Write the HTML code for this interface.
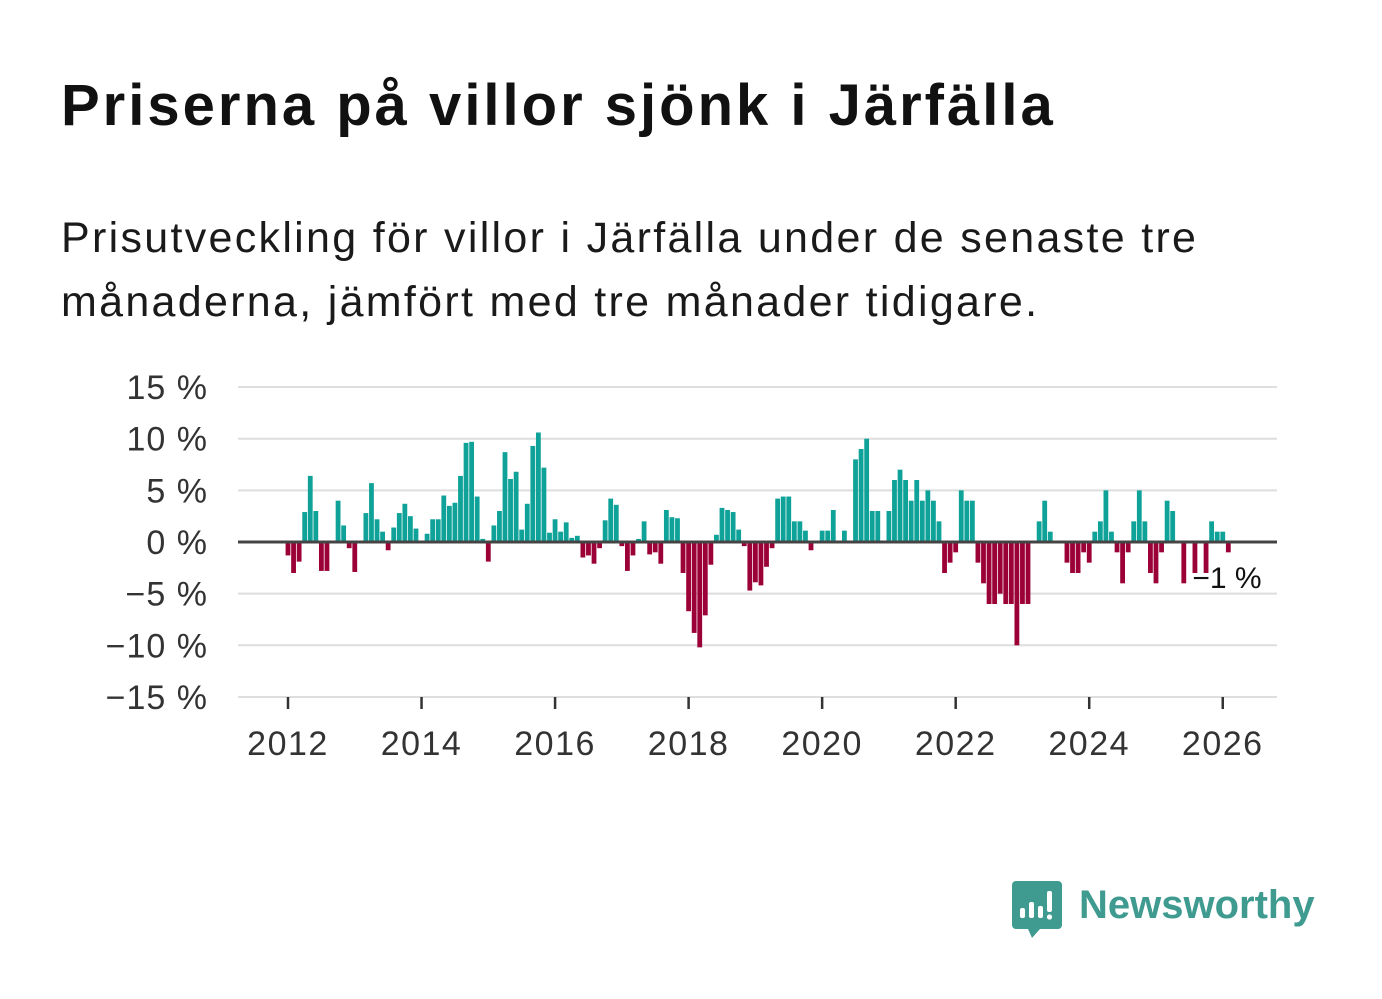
<!DOCTYPE html>
<html><head><meta charset="utf-8"><style>
html,body{margin:0;padding:0;background:#fff;}
body{width:1382px;height:999px;position:relative;overflow:hidden;font-family:"Liberation Sans",sans-serif;}
#title{position:absolute;left:61px;top:72px;font-size:58px;font-weight:bold;color:#111;margin:0;letter-spacing:3px;white-space:nowrap;}
#sub{position:absolute;left:61px;top:206px;font-size:43px;color:#1a1a1a;line-height:64px;margin:0;width:1300px;letter-spacing:2.3px;white-space:nowrap;}
svg{position:absolute;left:0;top:0;}
</style></head><body>
<h1 id="title">Priserna på villor sjönk i Järfälla</h1>
<p id="sub">Prisutveckling för villor i Järfälla under de senaste tre<br>månaderna, jämfört med tre månader tidigare.</p>
<svg id="chart" width="1382" height="999"></svg>
<svg width="1382" height="999">
<path d="M1016 881 h42 a4 4 0 0 1 4 4 v40 a4 4 0 0 1 -4 4 h-18 l-8 9 l-4 -9 h-12 a4 4 0 0 1 -4 -4 v-40 a4 4 0 0 1 4 -4z" fill="#3f9a90"/>
<rect x="1020" y="908" width="5" height="10" rx="2" fill="#fff"/>
<rect x="1029" y="902" width="5" height="16" rx="2" fill="#fff"/>
<rect x="1038" y="906" width="5" height="12" rx="2" fill="#fff"/>
<rect x="1047" y="891" width="5" height="21" rx="2" fill="#fff"/>
<circle cx="1049.5" cy="917" r="2.6" fill="#fff"/>
<text x="1079" y="918" font-family="Liberation Sans, sans-serif" font-weight="bold" font-size="40" fill="#3f9a90">Newsworthy</text>
</svg>
<script>
const yTicks=[15,10,5,0,-5,-10,-15];
const yTickLabels=["15 %","10 %","5 %","0 %","−5 %","−10 %","−15 %"];
const xTicks=[2012,2014,2016,2018,2020,2022,2024,2026];
const values=[-1.3,-3.0,-1.9,2.9,6.4,3.0,-2.8,-2.8,0,4.0,1.6,-0.6,-2.9,0,2.8,5.7,2.2,1.0,-0.8,1.4,2.8,3.7,2.5,1.3,0,0.8,2.2,2.2,4.5,3.5,3.8,6.4,9.6,9.7,4.4,0.3,-1.9,1.6,3.0,8.7,6.1,6.8,1.2,3.7,9.3,10.6,7.2,0.9,2.2,1.0,1.9,0.4,0.6,-1.5,-1.3,-2.1,-0.6,2.1,4.2,3.6,-0.4,-2.8,-1.3,0.3,2.0,-1.2,-1.0,-2.1,3.1,2.4,2.3,-3.0,-6.7,-8.8,-10.2,-7.1,-2.2,0.7,3.3,3.1,2.9,1.2,-0.4,-4.7,-3.9,-4.2,-2.4,-0.6,4.2,4.4,4.4,2.0,2.0,1.1,-0.8,0,1.1,1.1,3.1,0,1.1,0,8.0,9.0,10.0,3.0,3.0,0,3.0,6.0,7.0,6.0,4.0,6.0,4.0,5.0,4.0,2.0,-3.0,-2.0,-1.0,5.0,4.0,4.0,-2.0,-4.0,-6.0,-6.0,-5.0,-6.0,-6.0,-10.0,-6.0,-6.0,0,2.0,4.0,1.0,0,0,-2.0,-3.0,-3.0,-1.0,-2.0,1.0,2.0,5.0,1.0,-1.0,-4.0,-1.0,2.0,5.0,2.0,-3.0,-4.0,-1.0,4.0,3.0,0,-4.0,0,-3.0,0,-3.0,2.0,1.0,1.0,-1.0];
const lastLabel="−1 %";

const NS="http://www.w3.org/2000/svg";
const svg=document.getElementById('chart');
const x0=238,x1=1277;
function y(v){return 542-v*10.33;}
function xm(i){return 288+i*5.564;}
function xYear(yr){return xm((yr-2012)*12);}
function el(t,a){const e=document.createElementNS(NS,t);for(const k in a)e.setAttribute(k,a[k]);svg.appendChild(e);return e;}
yTicks.forEach((t,i)=>{
  const g=el('line',{x1:x0,x2:x1,y1:y(t),y2:y(t),stroke:'#dedede','stroke-width':2});
  
  
  const tx=el('text',{x:208,y:y(t)+12,'text-anchor':'end','font-size':34,'letter-spacing':1,fill:'#333','font-family':'Liberation Sans, sans-serif'});
  tx.textContent=yTickLabels[i];
  
  
});
xTicks.forEach(yr=>{
  const X=xYear(yr);
  const tk=el('line',{x1:X,x2:X,y1:697,y2:709,stroke:'#333','stroke-width':2.5});
  
  
  const tx=el('text',{x:X,y:755,'text-anchor':'middle','font-size':34,'letter-spacing':1.5,fill:'#333','font-family':'Liberation Sans, sans-serif'});
  tx.textContent=yr;
  
  
});
values.forEach((v,i)=>{
  if(v===0)return;
  const top=v>0?y(v):y(0);
  const r=el('rect',{x:xm(i)-2.4,y:top,width:4.8,height:Math.abs(v)*10.33,fill:v>0?'#0fa298':'#9b0036'});
  
  
});
const zl=el('line',{x1:x0,x2:x1,y1:y(0),y2:y(0),stroke:'#444','stroke-width':3});


const lb=el('text',{x:1227,y:588,'text-anchor':'middle','font-size':30,fill:'#111',stroke:'#fff','stroke-width':6,'paint-order':'stroke','font-family':'Liberation Sans, sans-serif'});
lb.textContent=lastLabel;


</script>
</body></html>
